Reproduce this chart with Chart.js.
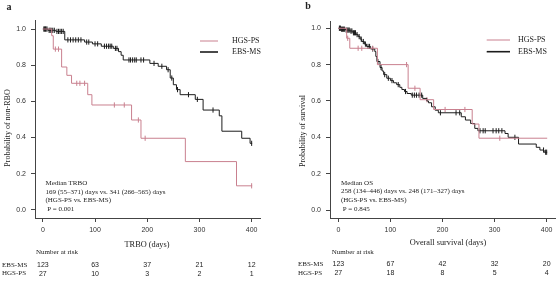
<!DOCTYPE html>
<html>
<head>
<meta charset="utf-8">
<script src="https://cdn.jsdelivr.net/npm/chart.js@4/dist/chart.umd.min.js"></script>
<style>
html,body{margin:0;padding:0;background:#fff;}
#wrap{position:relative;width:560px;height:281px;overflow:hidden;}
.panel{position:absolute;top:0;width:280px;height:281px;}
</style>
</head>
<body>
<div id="wrap">
  <div class="panel" style="left:0"><canvas id="cA" width="280" height="281"></canvas></div>
  <div class="panel" style="left:280px"><canvas id="cB" width="280" height="281"></canvas></div>
</div>
<script>
// ---------- DATA ----------
const seriesNames = ["HGS-PS", "EBS-MS"];
const xTickValues = [0, 100, 200, 300, 400];
const yTickValues = [0.0, 0.2, 0.4, 0.6, 0.8, 1.0];

// Panel a: TRBO
const a_hgsTimes = [0, 17, 20, 36, 46, 55, 86, 94, 170, 188, 273, 371, 401];
const a_hgsSurv  = [1.0, 0.963, 0.889, 0.79, 0.744, 0.70, 0.637, 0.58, 0.497, 0.396, 0.267, 0.133, 0.133];
const a_hgsCensor = [24, 30, 65, 71, 80, 137, 156, 183, 196, 400];

const a_ebsTimes = [0, 10, 25, 42, 80, 95, 112, 135, 145, 150, 154, 205, 221, 237, 244, 250, 256, 263, 292, 307, 338, 343, 381, 397, 401];
const a_ebsSurv  = [1.0, 0.993, 0.987, 0.94, 0.928, 0.918, 0.905, 0.893, 0.875, 0.855, 0.829, 0.81, 0.794, 0.775, 0.729, 0.692, 0.665, 0.637, 0.611, 0.552, 0.52, 0.435, 0.396, 0.368, 0.368];
const a_ebsCensor = [2, 3, 5, 6, 8, 12, 14, 16, 19, 22, 27, 30, 33, 36, 39, 48, 53, 58, 63, 68, 73, 84, 88, 100, 105, 118, 122, 126, 129, 132, 139, 142, 165, 168, 172, 176, 179, 188, 193, 213, 228, 240, 247, 258, 279, 296, 326, 400];

const a_riskEBS = [123, 63, 37, 21, 12];
const a_riskHGS = [27, 10, 3, 2, 1];
const a_annot = ["Median TRBO", "169 (55\u2013371) days vs. 341 (266\u2013565) days", "(HGS-PS vs. EBS-MS)", " P = 0.001"];

// Panel b: Overall survival
const b_hgsTimes = [0, 16, 22, 75, 134, 157, 183, 257, 270, 401];
const b_hgsSurv  = [1.0, 0.945, 0.89, 0.80, 0.67, 0.607, 0.553, 0.473, 0.395, 0.395];
const b_hgsCensor = [18, 38, 45, 66, 131, 147, 170, 205, 243, 310];

const b_ebsTimes = [0, 6, 14, 22, 28, 34, 38, 42, 45, 50, 54, 62, 70, 72, 74, 80, 84, 87, 93, 100, 106, 112, 118, 122, 127, 132, 140, 162, 170, 173, 179, 186, 192, 236, 244, 254, 262, 268, 320, 326, 346, 380, 387, 395, 401];
const b_ebsSurv  = [1.0, 0.995, 0.99, 0.985, 0.975, 0.965, 0.954, 0.94, 0.927, 0.913, 0.90, 0.886, 0.872, 0.845, 0.817, 0.784, 0.765, 0.745, 0.725, 0.712, 0.70, 0.69, 0.675, 0.663, 0.652, 0.641, 0.632, 0.614, 0.60, 0.59, 0.568, 0.549, 0.535, 0.513, 0.495, 0.476, 0.449, 0.436, 0.421, 0.40, 0.363, 0.345, 0.33, 0.318, 0.318];
const b_ebsCensor = [2, 3, 4, 6, 8, 10, 12, 15, 17, 19, 21, 24, 26, 29, 31, 33, 36, 40, 44, 48, 52, 57, 60, 66, 76, 82, 89, 96, 103, 115, 129, 142, 146, 150, 155, 160, 196, 226, 233, 272, 278, 282, 297, 303, 308, 314, 339, 394, 398, 400];

const b_riskEBS = [123, 67, 42, 32, 20];
const b_riskHGS = [27, 18, 8, 5, 4];
const b_annot = ["Median OS", "258 (134\u2013446) days vs. 248 (171\u2013327) days", "(HGS-PS vs. EBS-MS)", " P = 0.845"];

// ---------- STYLE ----------
const SERIF = '"Liberation Serif", "Times New Roman", serif';
const SANS = '"Liberation Sans", Arial, sans-serif';
const PINK = '#c9808f';
const BLACK = '#1c1c1c';
const AXIS = '#444';
const TEXT = '#222';

function stepPoints(times, surv) {
  return times.map((t, i) => ({x: t, y: surv[i]}));
}
function valueAt(times, surv, t) {
  let v = surv[0];
  for (let i = 0; i < times.length; i++) if (times[i] <= t) v = surv[i];
  return v;
}
function censorPoints(times, surv, cens) {
  return cens.map(t => ({x: t, y: valueAt(times, surv, t)}));
}

const overlay = {
  id: 'overlay',
  afterDraw(chart, args, o) {
    const ctx = chart.ctx;
    const xs = chart.scales.x, ys = chart.scales.y;
    ctx.save();
    ctx.fillStyle = TEXT;
    // panel letter
    ctx.font = 'bold 10px ' + SERIF;
    ctx.textAlign = 'center'; ctx.textBaseline = 'middle';
    ctx.fillText(o.letter, o.letterPos[0], o.letterPos[1]);
    // y title
    ctx.font = '8px ' + SERIF;
    ctx.save();
    ctx.translate(o.yTitlePos[0], o.yTitlePos[1]);
    ctx.rotate(-Math.PI / 2);
    ctx.fillText(o.yTitle, 0, 0);
    ctx.restore();
    // x title
    ctx.font = '8.3px ' + SERIF;
    ctx.fillText(o.xTitle, o.xTitlePos[0], o.xTitlePos[1]);
    // legend
    ctx.font = '8px ' + SERIF;
    ctx.textAlign = 'left';
    const lg = o.legend;
    const cols = [PINK, BLACK], widths = [1, 1.6];
    for (let i = 0; i < 2; i++) {
      const y = lg.y[i];
      ctx.strokeStyle = cols[i]; ctx.lineWidth = widths[i];
      ctx.beginPath(); ctx.moveTo(lg.x1, y); ctx.lineTo(lg.x2, y); ctx.stroke();
      ctx.fillText(seriesNames[i], lg.tx, y);
    }
    // annotation
    ctx.font = '7px ' + SERIF;
    const ax = xs.getPixelForValue(5);
    const ay = ys.getPixelForValue(o.annotY);
    o.annot.forEach((s, i) => ctx.fillText(s, ax, ay + i * 8.7));
    // risk table
    ctx.fillText('Number at risk', o.riskTitlePos[0], o.riskTitlePos[1]);
    ctx.fillText('EBS-MS', o.riskLabelX, o.riskRowY[0]);
    ctx.fillText('HGS-PS', o.riskLabelX, o.riskRowY[1]);
    ctx.font = '7px ' + SANS;
    ctx.textAlign = 'center';
    xTickValues.forEach((t, i) => {
      const px = xs.getPixelForValue(t);
      ctx.fillText(String(o.riskEBS[i]), px, o.riskRowY[0]);
      ctx.fillText(String(o.riskHGS[i]), px, o.riskRowY[1]);
    });
    ctx.restore();
  }
};

function makeChart(id, c) {
  return new Chart(document.getElementById(id), {
    type: 'line',
    data: {
      datasets: [
        {label: seriesNames[0], data: stepPoints(c.hgsT, c.hgsS), stepped: 'before', borderColor: PINK, borderWidth: 1, pointRadius: 0, fill: false},
        {label: seriesNames[1], data: stepPoints(c.ebsT, c.ebsS), stepped: 'before', borderColor: BLACK, borderWidth: 1, pointRadius: 0, fill: false},
        {label: 'c1', data: censorPoints(c.hgsT, c.hgsS, c.hgsC), showLine: false, pointStyle: 'line', rotation: 90, pointRadius: 2.6, pointBorderColor: PINK, pointBorderWidth: 1, borderColor: PINK},
        {label: 'c2', data: censorPoints(c.ebsT, c.ebsS, c.ebsC), showLine: false, pointStyle: 'line', rotation: 90, pointRadius: 2.6, pointBorderColor: BLACK, pointBorderWidth: 1, borderColor: BLACK}
      ]
    },
    options: {
      responsive: false,
      animation: false,
      devicePixelRatio: 1,
      layout: {padding: c.pad},
      plugins: {legend: {display: false}, tooltip: {enabled: false}, overlay: c.overlay},
      scales: {
        x: {
          type: 'linear', min: c.xMin, max: c.xMax,
          afterBuildTicks: s => { s.ticks = xTickValues.map(v => ({value: v})); },
          afterFit: s => { s.height = c.xHeight; },
          ticks: {autoSkip: false, maxRotation: 0, padding: 4, color: '#333', font: {size: 7, family: SANS}, callback: v => String(v)},
          grid: {display: true, drawOnChartArea: false, drawTicks: true, tickLength: 4, color: AXIS, lineWidth: 1},
          border: {display: true, color: AXIS, width: 1}
        },
        y: {
          type: 'linear', min: c.yMin, max: c.yMax,
          afterBuildTicks: s => { s.ticks = yTickValues.map(v => ({value: v})); },
          afterFit: s => { s.width = c.yWidth; },
          ticks: {autoSkip: false, padding: 5, color: '#333', font: {size: 7, family: SANS}, callback: v => Number(v).toFixed(1)},
          grid: {display: true, drawOnChartArea: false, drawTicks: true, tickLength: 4, color: AXIS, lineWidth: 1},
          border: {display: true, color: AXIS, width: 1}
        }
      }
    },
    plugins: [overlay]
  });
}

makeChart('cA', {
  hgsT: a_hgsTimes, hgsS: a_hgsSurv, hgsC: a_hgsCensor,
  ebsT: a_ebsTimes, ebsS: a_ebsSurv, ebsC: a_ebsCensor,
  xMin: -15, xMax: 416, yMin: -0.045, yMax: 1.05,
  pad: {left: 0, top: 20, right: 20, bottom: 0}, yWidth: 35, xHeight: 63,
  overlay: {
    letter: 'a', letterPos: [9, 7],
    yTitle: 'Probability of non-RBO', yTitlePos: [7.5, 128],
    xTitle: 'TRBO (days)', xTitlePos: [147, 245],
    legend: {x1: 200, x2: 218, tx: 232, y: [41, 52]},
    annot: a_annot, annotY: 0.148,
    riskTitlePos: [36, 251.7], riskLabelX: 2, riskRowY: [264.8, 273.6],
    riskEBS: a_riskEBS, riskHGS: a_riskHGS
  }
});

makeChart('cB', {
  hgsT: b_hgsTimes, hgsS: b_hgsSurv, hgsC: b_hgsCensor,
  ebsT: b_ebsTimes, ebsS: b_ebsSurv, ebsC: b_ebsCensor,
  xMin: -16, xMax: 416, yMin: -0.044, yMax: 1.04,
  pad: {left: 0, top: 21, right: 5, bottom: 0}, yWidth: 50, xHeight: 63,
  overlay: {
    letter: 'b', letterPos: [28, 6.5],
    yTitle: 'Probability of survival', yTitlePos: [22.5, 131],
    xTitle: 'Overall survival (days)', xTitlePos: [168, 243],
    legend: {x1: 206.7, x2: 230, tx: 238, y: [40, 51.7]},
    annot: b_annot, annotY: 0.15,
    riskTitlePos: [51.7, 251.7], riskLabelX: 18, riskRowY: [264.3, 272.9],
    riskEBS: b_riskEBS, riskHGS: b_riskHGS
  }
});
</script>
</body>
</html>
